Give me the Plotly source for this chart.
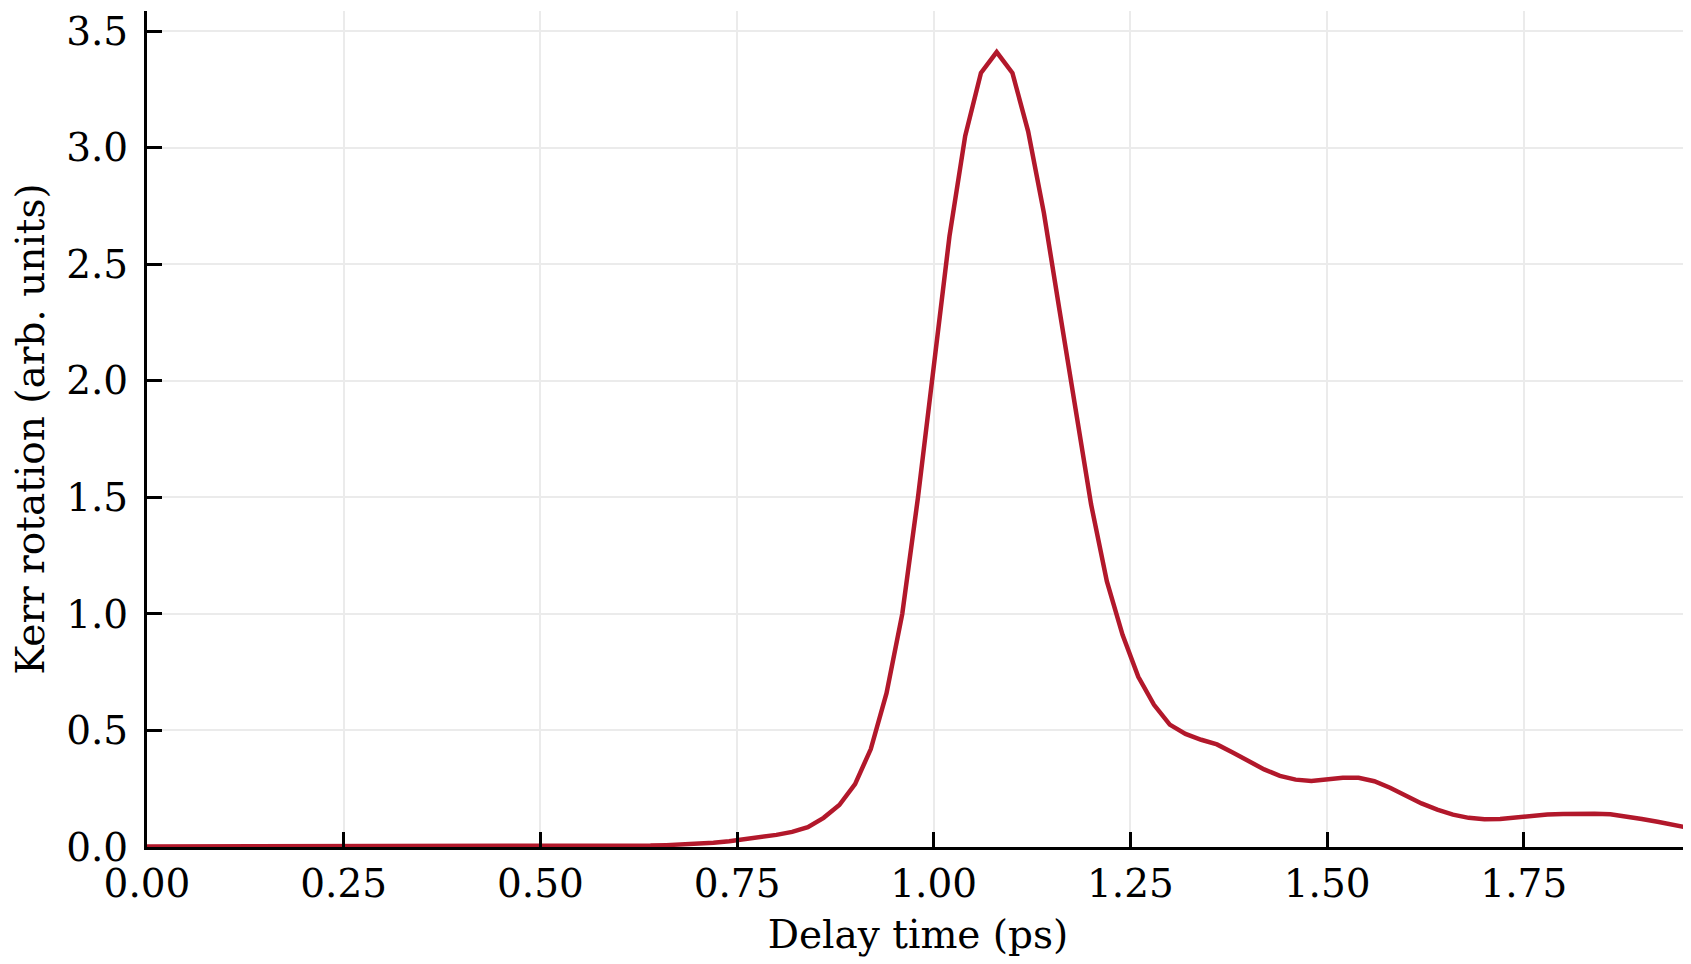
import plotly.graph_objects as go

# delay time (ps) and Kerr signal
delay_ps = [0.00, 0.10, 0.20, 0.30, 0.40, 0.50, 0.60,
            0.62, 0.64, 0.66, 0.68, 0.70, 0.72, 0.74, 0.76, 0.78, 0.80,
            0.82, 0.84, 0.86, 0.88, 0.90, 0.92, 0.94, 0.96, 0.98, 1.00,
            1.02, 1.04, 1.06, 1.08, 1.10, 1.12, 1.14, 1.16, 1.18, 1.20,
            1.22, 1.24, 1.26, 1.28, 1.30, 1.32, 1.34, 1.36, 1.38, 1.40,
            1.42, 1.44, 1.46, 1.48, 1.50, 1.52, 1.54, 1.56, 1.58, 1.60,
            1.62, 1.64, 1.66, 1.68, 1.70, 1.72, 1.74, 1.76, 1.78, 1.80,
            1.82, 1.84, 1.86, 1.88, 1.90, 1.92, 1.94, 1.96]

kerr = [0.002, 0.002, 0.002, 0.003, 0.003, 0.004, 0.004,
        0.005, 0.006, 0.008, 0.010, 0.013, 0.018, 0.025, 0.033, 0.042, 0.052,
        0.065, 0.085, 0.125, 0.18, 0.27, 0.42, 0.66, 1.00, 1.50, 2.08,
        2.62, 3.05, 3.32, 3.41, 3.32, 3.07, 2.72, 2.30, 1.88, 1.47,
        1.14, 0.91, 0.73, 0.61, 0.525, 0.485, 0.46, 0.44, 0.405, 0.367,
        0.333, 0.305, 0.289, 0.283, 0.288, 0.297, 0.297, 0.282, 0.254, 0.218,
        0.187, 0.16, 0.139, 0.125, 0.119, 0.12, 0.127, 0.134, 0.139, 0.142,
        0.143, 0.143, 0.14, 0.132, 0.12, 0.108, 0.095, 0.082]

x_ticks = [0.00, 0.25, 0.50, 0.75, 1.00, 1.25, 1.50, 1.75]
x_labels = ['0.00', '0.25', '0.50', '0.75', '1.00', '1.25', '1.50', '1.75']
y_ticks = [0.0, 0.5, 1.0, 1.5, 2.0, 2.5, 3.0, 3.5]
y_labels = ['0.0', '0.5', '1.0', '1.5', '2.0', '2.5', '3.0', '3.5']

FONT = 'DejaVu Serif'

fig = go.Figure()

fig.add_trace(go.Scatter(x=delay_ps, y=kerr,
                         mode='lines',
                         line=dict(color='#b2182b', width=4.5),
                         showlegend=False))

axis_style = dict(showline=True, linecolor='black', linewidth=3,
                  ticks='inside', ticklen=15, tickwidth=2.5, tickcolor='black',
                  showgrid=True, gridcolor='#ebebeb', gridwidth=1.5,
                  zeroline=False, mirror=False, ticklabeloverflow='allow',
                  tickfont=dict(family=FONT, size=39, color='black'),
                  title_font=dict(family=FONT, size=39, color='black'))

fig.update_xaxes(range=[0, 1.96], tickvals=x_ticks, ticktext=x_labels,
                 title_text='Delay time (ps)', title_standoff=16, **axis_style)
fig.update_yaxes(range=[0, 3.586], tickvals=y_ticks, ticktext=y_labels,
                 ticklabelstandoff=8,
                 title_text='Kerr rotation (arb. units)', title_standoff=29, **axis_style)

fig.update_layout(width=1691, height=964,
                  margin=dict(l=139, r=10, t=1, b=125),
                  plot_bgcolor='white', paper_bgcolor='white',
                  font=dict(family=FONT, color='black'))

fig.write_html("out.html")
